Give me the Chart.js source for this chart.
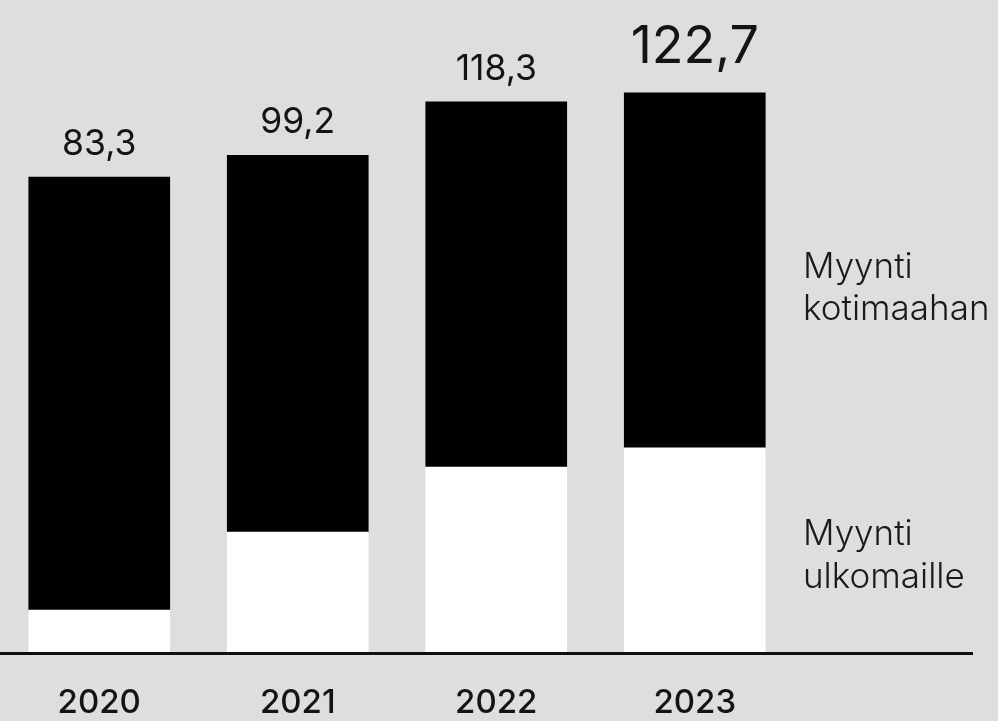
<!DOCTYPE html>
<html>
<head>
<meta charset="utf-8">
<script src="https://cdn.jsdelivr.net/npm/chart.js@4"></script>
<style>
  html, body { margin: 0; padding: 0; background: #dedede; }
  canvas { display: block; }
</style>
</head>
<body>
<canvas id="myChart" width="998" height="721"></canvas>
<script>
const ctx = document.getElementById('myChart');

// data (bar heights, totals from the labels)
const years = ['2020', '2021', '2022', '2023'];
const ulkomaille = [9.2, 26.3, 40.6, 44.8];
const kotimaahan = [95.0, 82.7, 80.1, 77.9];
const totals = [83.3, 99.2, 118.3, 122.7];
const seriesNames = [['Myynti', 'kotimaahan'], ['Myynti', 'ulkomaille']];

const textColor = '#141414';
const fontFamily = 'Inter, "Noto Sans", sans-serif';

// totals above the bars, the last one bigger
const totalLabels = {
  id: 'totalLabels',
  afterDatasetsDraw(chart) {
    const c = chart.ctx;
    const meta = chart.getDatasetMeta(1);
    c.save();
    c.fillStyle = textColor;
    c.textAlign = 'center';
    c.textBaseline = 'alphabetic';
    meta.data.forEach((bar, i) => {
      const last = i === totals.length - 1;
      c.font = (last ? '400 52px ' : '400 35.5px ') + fontFamily;
      const label = totals[i].toFixed(1).replace('.', ',');
      c.fillText(label, bar.x, bar.y - (last ? 30 : 22));
    });
    c.restore();
  },
};

// baseline and the series names on the right
const extras = {
  id: 'extras',
  afterDraw(chart) {
    const c = chart.ctx;
    const area = chart.chartArea;
    c.save();
    c.strokeStyle = '#111';
    c.lineWidth = 3;
    c.beginPath();
    c.moveTo(0, area.bottom + 1.5);
    c.lineTo(area.right + 179, area.bottom + 1.5);
    c.stroke();

    c.fillStyle = '#1a1a1a';
    c.font = '300 35px ' + fontFamily;
    c.textAlign = 'left';
    c.textBaseline = 'alphabetic';
    const x = area.right + 9;
    const blockTops = [277.7, 545];
    seriesNames.forEach((lines, k) => {
      lines.forEach((t, j) => c.fillText(t, x, blockTops[k] + j * 42.5));
    });
    c.restore();
  },
};

const config = {
  type: 'bar',
  data: {
    labels: years,
    datasets: [
      {
        label: 'Myynti ulkomaille',
        data: ulkomaille,
        backgroundColor: '#ffffff',
        borderWidth: 0,
        barThickness: 141,
      },
      {
        label: 'Myynti kotimaahan',
        data: kotimaahan,
        backgroundColor: '#000000',
        borderWidth: 0,
        barThickness: 141,
      },
    ],
  },
  options: {
    responsive: false,
    animation: false,
    devicePixelRatio: 1,
    layout: {
      padding: { left: 0, right: 204, top: 14, bottom: 0 },
    },
    scales: {
      x: {
        stacked: true,
        grid: { display: false, drawTicks: false },
        border: { display: false },
        ticks: {
          padding: 35,
          color: textColor,
          font: { family: fontFamily, size: 33, weight: 500, lineHeight: 1 },
        },
        afterFit: (scale) => {
          scale.height = 69;
        },
      },
      y: {
        stacked: true,
        display: false,
        min: 0,
        max: 140,
      },
    },
    plugins: {
      legend: { display: false },
      tooltip: { enabled: false },
    },
  },
  plugins: [totalLabels, extras],
};

new Chart(ctx, config);
</script>
</body>
</html>
